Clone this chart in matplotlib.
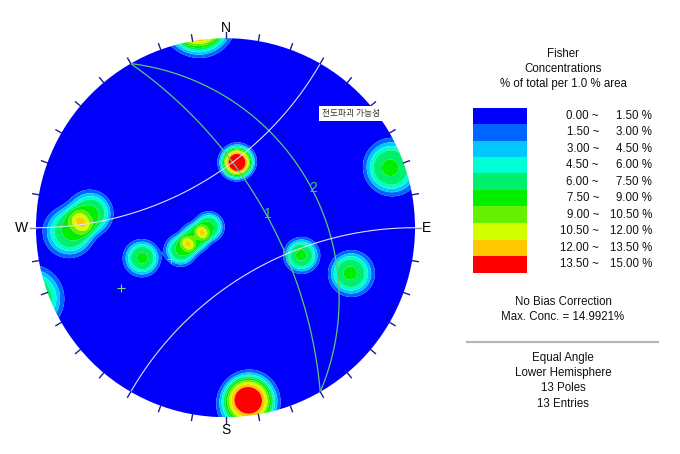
import numpy as np
import matplotlib
matplotlib.use('Agg')
import matplotlib.pyplot as plt
from matplotlib.patches import Circle, Rectangle

plt.rcParams['font.family'] = ['Liberation Sans', 'DejaVu Sans']

# poles (trend, plunge)
pole_trend = [172, 173, 9, 11, 70, 268.5, 276, 250, 110, 110, 272.5, 251.5, 243.5]
pole_plunge = [6, 4, 52, 51, 4.5, 11.5, 19, 40, 44, 20, 80, 70.7, 60.6]

# planes (dip direction, dip) drawn as great circles
plane_dd = [60, 60]
plane_dip = [65, 37]
plane_names = ['1', '2']

# cone drawn as small circle (axis trend, axis plunge, half angle)
cone = (330, 0, 60)

levels = [0, 1.5, 3.0, 4.5, 6.0, 7.5, 9.0, 10.5, 12.0, 13.5, 15.0]
colors = ['#0000FA', '#0064FF', '#00C8FF', '#00FFD2', '#00F06E',
          '#00EE00', '#64F000', '#D2FF00', '#FFC800', '#FF0000']
max_conc = 14.9921

W, H = 680, 454
cx, cy, R = 225.5, 227.7, 189.5


def vec(trend, plunge):
    t = np.radians(trend); p = np.radians(plunge)
    return np.array([np.cos(p)*np.sin(t), np.cos(p)*np.cos(t), np.sin(p)])


def proj(v):
    # equal angle, lower hemisphere
    return v[0]/(1+v[2]), v[1]/(1+v[2])


def great_circle(dd, dip, n=300):
    t = np.radians(np.linspace(dd-90, dd+90, n))
    pl = np.arctan(np.tan(np.radians(dip))*np.cos(t-np.radians(dd)))
    r = np.tan((np.pi/2 - pl)/2)
    return r*np.sin(t), r*np.cos(t)


# fisher-smoothed counting in a ~1% area cone: fraction of one pole seen at distance rho
alpha = np.radians(7.8); sig = np.radians(2.3)
s = np.linspace(-5*sig, 5*sig, 241)
GX, GY = np.meshgrid(s, s)
gw = np.exp(-(GX**2+GY**2)/(2*sig**2)); gw /= gw.sum()
rho_tab = np.radians(np.linspace(0, 30, 301))
frac = np.array([gw[(GX-r)**2 + GY**2 < alpha**2].sum() for r in rho_tab])

fig = plt.figure(figsize=(W/100, H/100), dpi=100)
ax = fig.add_axes([(cx-R)/W, 1-(cy+R)/H, 2*R/W, 2*R/H])
ax.set_xlim(-1, 1); ax.set_ylim(-1, 1)
ax.set_aspect('equal')
ax.axis('off')

# density grid
g = np.linspace(-1.03, 1.03, 500)
X, Y = np.meshgrid(g, g)
rr = np.hypot(X, Y)
th = 2*np.arctan(rr)
az = np.arctan2(X, Y)
grid = np.stack([np.sin(th)*np.sin(az), np.sin(th)*np.cos(az), np.cos(th)])
N = len(pole_trend)
dens = np.zeros_like(X)
for t, p in zip(pole_trend, pole_plunge):
    c = np.clip(np.abs(np.tensordot(vec(t, p), grid, axes=1)), 0, 1)
    dens += 100.0/N*np.interp(np.arccos(c), rho_tab, frac, right=0)

circ = Circle((0, 0), 1, transform=ax.transData)
lv = levels[:-1] + [100]
cs = ax.contourf(X, Y, dens, levels=lv, colors=colors, antialiased=True)
cs.set_clip_path(circ)

# great circles
for dd, dip, name in zip(plane_dd, plane_dip, plane_names):
    x, y = great_circle(dd, dip)
    ax.plot(x, y, color='#5CC87A', lw=0.9)
    # pole
    px, py = proj(vec(dd+180, 90-dip))
    ax.plot(px, py, marker='+', color='#7CE07C', ms=6, mew=0.8)

# labels on the planes
for dd, dip, name, off in zip(plane_dd, plane_dip, plane_names, [12, 5]):
    t = dd + off
    pl = np.degrees(np.arctan(np.tan(np.radians(dip))*np.cos(np.radians(off))))
    lx, ly = proj(vec(t, pl))
    ax.text(lx+0.01, ly, name, color='#33DD44', fontsize=10, ha='center', va='center')

# small circle (cone)
at, ap, half = cone
a = vec(at, ap)
u = np.cross(a, [0, 0, 1.0]); u /= np.linalg.norm(u)
w = np.cross(a, u)
phi = np.linspace(0, 2*np.pi, 1441)
h = np.radians(half)
pts = np.cos(h)*a[:, None] + np.sin(h)*(np.cos(phi)*u[:, None] + np.sin(phi)*w[:, None])
low = pts[2] >= 0
x1, y1 = proj(pts)
x2, y2 = proj(-pts)
ax.plot(np.where(low, x1, np.nan), np.where(low, y1, np.nan), color='#E0E0FF', lw=0.8)
ax.plot(np.where(~low, x2, np.nan), np.where(~low, y2, np.nan), color='#E0E0FF', lw=0.8)

# ticks
for d in range(0, 360, 10):
    sn, cs_ = np.sin(np.radians(d)), np.cos(np.radians(d))
    col = '#909090' if d in (90, 270) else '#1C1C8C'
    ax.plot([sn, 1.033*sn], [cs_, 1.033*cs_], color=col, lw=1.0, clip_on=False)

ax.text(0, 1.054, 'N', fontsize=10, ha='center', va='center', clip_on=False)
ax.text(0, -1.068, 'S', fontsize=10, ha='center', va='center', clip_on=False)
ax.text(-1.074, 0, 'W', fontsize=10, ha='center', va='center', clip_on=False)
ax.text(1.063, 0, 'E', fontsize=10, ha='center', va='center', clip_on=False)

ax.text(0.662, 0.603, '전도파괴 가능성', fontsize=6.3, color='#333333',
        family=['Noto Sans CJK KR', 'DejaVu Sans'], ha='center', va='center',
        bbox=dict(facecolor='white', edgecolor='none', pad=2))


def ftext(px, py, s, **kw):
    fig.text(px/W, 1-py/H, s, va='center', fontsize=8.3, color='#111111', **kw)


ftext(563, 54, 'Fisher', ha='center')
ftext(563, 69, 'Concentrations', ha='center')
ftext(563, 84, '% of total per 1.0 % area', ha='center')

top, hgt = 107.5, 16.5
for i, col in enumerate(colors):
    y0 = top + i*hgt
    fig.patches.append(Rectangle((473.3/W, 1-(y0+hgt)/H), 53.4/W, hgt/H,
                                 transform=fig.transFigure, facecolor=col, edgecolor='none'))
    ftext(599, y0+hgt/2, '%.2f ~' % levels[i], ha='right')
    ftext(652, y0+hgt/2, '%.2f %%' % levels[i+1], ha='right')

ftext(563, 302, 'No Bias Correction', ha='center')
ftext(563, 317, 'Max. Conc. = %.4f%%' % max_conc, ha='center')
fig.add_artist(plt.Line2D([467/W, 658/W], [1-341.7/H, 1-341.7/H], color='#B4B4B4', lw=1.5))
ftext(563, 358, 'Equal Angle', ha='center')
ftext(563, 373, 'Lower Hemisphere', ha='center')
ftext(563, 388, '%d Poles' % N, ha='center')
ftext(563, 404, '%d Entries' % N, ha='center')

fig.savefig('out.png', dpi=100)
